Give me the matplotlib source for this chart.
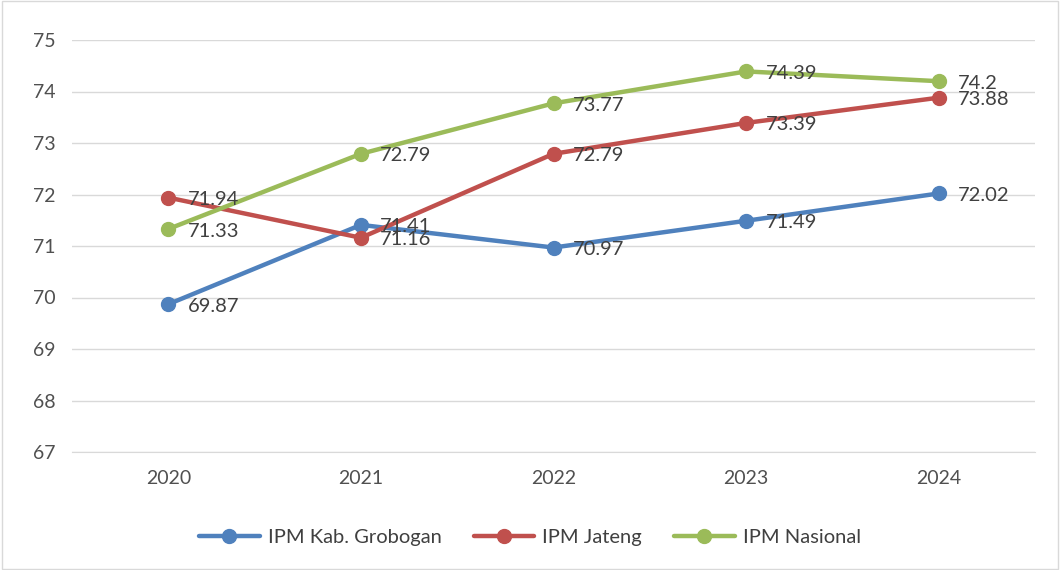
import matplotlib
matplotlib.use("Agg")
import matplotlib.pyplot as plt
from matplotlib.patches import Rectangle

plt.rcParams['font.family'] = ['Lato', 'DejaVu Sans']

years = ["2020", "2021", "2022", "2023", "2024"]
grobogan = [69.87, 71.41, 70.97, 71.49, 72.02]
jateng = [71.94, 71.16, 72.79, 73.39, 73.88]
nasional = [71.33, 72.79, 73.77, 74.39, 74.2]
series_names = ["IPM Kab. Grobogan", "IPM Jateng", "IPM Nasional"]
colors = ["#4F81BD", "#C0504D", "#9BBB59"]

fig = plt.figure(figsize=(10.6, 5.7), dpi=100)
ax = fig.add_axes([72/1060, 1-452/570, (1035-72)/1060, (452-40)/570])

x = list(range(len(years)))
for vals, name, c in zip([grobogan, jateng, nasional], series_names, colors):
    ax.plot(x, vals, color=c, lw=3.2, marker='o', ms=10, label=name, solid_capstyle='round')
    for xi, v in zip(x, vals):
        ax.annotate(f"{v:g}", (xi, v), xytext=(14, -1.5), textcoords='offset points',
                    fontsize=14.5, color='#404040', va='center', ha='left')

ax.set_xlim(-0.5, 4.5)
ax.set_ylim(67, 75)
ax.set_yticks(range(67, 76))
ax.set_xticks(x)
ax.set_xticklabels(years)
ax.grid(axis='y', color='#D9D9D9', lw=1)
ax.set_axisbelow(True)
for s in ['top', 'right', 'left']:
    ax.spines[s].set_visible(False)
ax.spines['bottom'].set_color('#D9D9D9')
ax.tick_params(axis='both', length=0, labelsize=14, colors='#505050', pad=12)
ax.tick_params(axis='x', pad=13)

leg = fig.legend(loc='center', bbox_to_anchor=(0.5, 1-537/570), ncol=3, frameon=False,
                 fontsize=14.5, handlelength=3, columnspacing=1.6, handletextpad=0.4)
for t in leg.get_texts():
    t.set_color('#404040')

fig.patches.append(Rectangle((0.002, 0.002), 0.996, 0.996, transform=fig.transFigure,
                             fill=False, edgecolor='#D9D9D9', lw=1))

fig.savefig("out.png", dpi=100)
